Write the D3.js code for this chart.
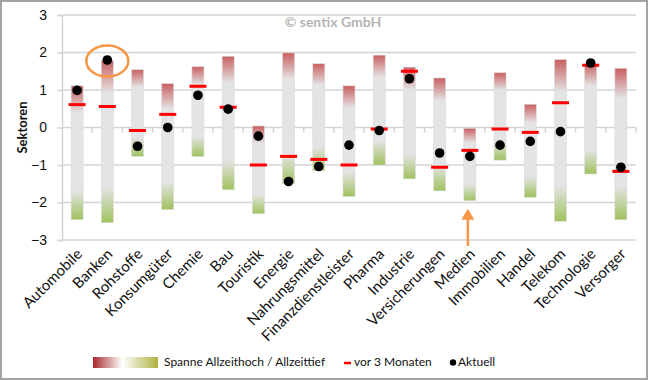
<!DOCTYPE html>
<html>
<head>
<meta charset="utf-8">
<script src="https://cdn.jsdelivr.net/npm/d3@7.9.0/dist/d3.min.js"></script>
<style>
  body { margin: 0; background: #fff; }
  svg { display: block; font-family: Lato, 'Open Sans', sans-serif; }
</style>
</head>
<body>
<svg id="chart" width="648" height="380"></svg>
<script>
// Sektoren-Sentiment (sentix), values
const categories = ['Automobile', 'Banken', 'Rohstoffe', 'Konsumgüter', 'Chemie', 'Bau', 'Touristik',
  'Energie', 'Nahrungsmittel', 'Finanzdienstleister', 'Pharma', 'Industrie', 'Versicherungen',
  'Medien', 'Immobilien', 'Handel', 'Telekom', 'Technologie', 'Versorger'];
const allTimeHigh = [1.11, 1.79, 1.54, 1.17, 1.62, 1.90, 0.04, 1.99, 1.70, 1.11, 1.93, 1.61, 1.32,
  -0.02, 1.46, 0.62, 1.81, 1.70, 1.58];
const allTimeLow = [-2.46, -2.54, -0.77, -2.19, -0.77, -1.66, -2.30, -1.50, -1.15, -1.84, -1.00, -1.37,
  -1.69, -1.95, -0.87, -1.86, -2.50, -1.24, -2.46];
const threeMonthsAgo = [0.61, 0.56, -0.08, 0.35, 1.10, 0.54, -1.00, -0.77, -0.85, -1.00, -0.04, 1.50,
  -1.06, -0.61, -0.04, -0.13, 0.66, 1.66, -1.17];
const current = [0.99, 1.80, -0.50, 0.00, 0.86, 0.49, -0.23, -1.44, -1.04, -0.47, -0.08, 1.30,
  -0.68, -0.77, -0.47, -0.37, -0.11, 1.72, -1.06];
const yTicks = [-3, -2, -1, 0, 1, 2, 3];

const rows = categories.map((c, i) => ({
  name: c, hi: allTimeHigh[i], lo: allTimeLow[i], prev: threeMonthsAgo[i], now: current[i]
}));

const svg = d3.select('#chart');

// frame
svg.append('rect')
  .attr('x', 1).attr('y', 1).attr('width', 646).attr('height', 378)
  .attr('fill', '#fff').attr('stroke', '#a3a3a3').attr('stroke-width', 2);

const x = d3.scaleBand().domain(categories).range([62, 636]);
const y = d3.scaleLinear().domain([-3, 3]).range([240, 15]);

const defs = svg.append('defs');
const barGrad = defs.append('linearGradient').attr('id', 'barGrad')
  .attr('x1', 0).attr('y1', 0).attr('x2', 0).attr('y2', 1);
barGrad.append('stop').attr('offset', '0%').attr('stop-color', '#c95f61');
barGrad.append('stop').attr('offset', '20%').attr('stop-color', '#e4e4e4');
barGrad.append('stop').attr('offset', '78%').attr('stop-color', '#e4e4e4');
barGrad.append('stop').attr('offset', '100%').attr('stop-color', '#9fc25e');

const legGrad = defs.append('linearGradient').attr('id', 'legGrad');
legGrad.append('stop').attr('offset', '0%').attr('stop-color', '#a8282c');
legGrad.append('stop').attr('offset', '45%').attr('stop-color', '#ffffff');
legGrad.append('stop').attr('offset', '100%').attr('stop-color', '#aeb23e');

// gridlines
svg.append('g')
  .selectAll('line')
  .data(yTicks.filter(t => t !== 0))
  .join('line')
  .attr('x1', 62).attr('x2', 636)
  .attr('y1', d => y(d)).attr('y2', d => y(d))
  .attr('stroke', '#d4d4d4').attr('stroke-width', 1.5);

// y axis
const yAxis = svg.append('g')
  .attr('transform', 'translate(62,0)')
  .call(d3.axisLeft(y).tickValues(yTicks).tickSize(5).tickPadding(10).tickFormat(d3.format('d')));
yAxis.select('.domain').attr('stroke', '#d4d4d4').attr('stroke-width', 1.5);
yAxis.selectAll('.tick line').attr('stroke', '#d4d4d4').attr('stroke-width', 1.5);
yAxis.selectAll('text').attr('font-size', 14).attr('fill', '#111');

// x axis at zero with ticks between categories
svg.append('line')
  .attr('x1', 62).attr('x2', 636).attr('y1', y(0)).attr('y2', y(0))
  .attr('stroke', '#d4d4d4').attr('stroke-width', 1.5);
svg.append('g')
  .selectAll('line')
  .data(categories.slice(1).concat(['__end']))
  .join('line')
  .attr('x1', d => d === '__end' ? 636 : x(d))
  .attr('x2', d => d === '__end' ? 636 : x(d))
  .attr('y1', y(0)).attr('y2', y(0) + 5)
  .attr('stroke', '#d4d4d4').attr('stroke-width', 1.5);

// category labels
svg.append('g')
  .selectAll('text')
  .data(categories)
  .join('text')
  .attr('transform', d => `translate(${x(d) + x.bandwidth() / 2 + 6},${255}) rotate(-45)`)
  .attr('text-anchor', 'end')
  .attr('font-size', 15)
  .attr('fill', '#111')
  .text(d => d);

// y title
svg.append('text')
  .attr('transform', `translate(27,${y(0)}) rotate(-90)`)
  .attr('text-anchor', 'middle')
  .attr('font-size', 13).attr('font-weight', 'bold')
  .attr('fill', '#111')
  .text('Sektoren');

// watermark
svg.append('text')
  .attr('x', 333).attr('y', 27)
  .attr('text-anchor', 'middle')
  .attr('font-size', 14).attr('font-weight', 'bold')
  .attr('fill', '#b5b5b5')
  .text('© sentix GmbH');

const barW = 12;

// range bars
svg.append('g')
  .selectAll('rect')
  .data(rows)
  .join('rect')
  .attr('x', d => x(d.name) + x.bandwidth() / 2 - barW / 2)
  .attr('y', d => y(d.hi))
  .attr('width', barW)
  .attr('height', d => y(d.lo) - y(d.hi))
  .attr('fill', 'url(#barGrad)')
  .attr('stroke', '#dadada').attr('stroke-width', 0.6);

// 3 months ago markers
svg.append('g')
  .selectAll('line')
  .data(rows)
  .join('line')
  .attr('x1', d => x(d.name) + x.bandwidth() / 2 - 8.5)
  .attr('x2', d => x(d.name) + x.bandwidth() / 2 + 8.5)
  .attr('y1', d => y(d.prev)).attr('y2', d => y(d.prev))
  .attr('stroke', '#ff0000').attr('stroke-width', 3);

// current dots
svg.append('g')
  .selectAll('circle')
  .data(rows)
  .join('circle')
  .attr('cx', d => x(d.name) + x.bandwidth() / 2)
  .attr('cy', d => y(d.now))
  .attr('r', 4.8)
  .attr('fill', '#000');

// orange highlight around Banken
const banken = rows[1];
svg.append('ellipse')
  .attr('cx', x(banken.name) + x.bandwidth() / 2)
  .attr('cy', y(banken.now) + 1)
  .attr('rx', 21).attr('ry', 15.5)
  .attr('fill', 'none').attr('stroke', '#f79646').attr('stroke-width', 2.5);

// orange arrow below Medien
const medien = rows[13];
const ax = x(medien.name) + x.bandwidth() / 2 - 2;
const tip = y(medien.lo) + 8;
svg.append('line')
  .attr('x1', ax).attr('x2', ax).attr('y1', tip + 8).attr('y2', 246)
  .attr('stroke', '#f79646').attr('stroke-width', 2.5);
svg.append('path')
  .attr('d', `M${ax},${tip} L${ax - 6.5},${tip + 11} L${ax + 6.5},${tip + 11} Z`)
  .attr('fill', '#f79646');

// legend
const leg = svg.append('g').attr('font-size', 12).attr('fill', '#111');
leg.append('rect')
  .attr('x', 93).attr('y', 357).attr('width', 65).attr('height', 11)
  .attr('fill', 'url(#legGrad)');
leg.append('text').attr('x', 164).attr('y', 366).text('Spanne Allzeithoch / Allzeittief');
leg.append('line')
  .attr('x1', 344).attr('x2', 351).attr('y1', 363).attr('y2', 363)
  .attr('stroke', '#ff0000').attr('stroke-width', 2.5);
leg.append('text').attr('x', 354).attr('y', 366).text('vor 3 Monaten');
leg.append('circle').attr('cx', 453).attr('cy', 362.5).attr('r', 3.2).attr('fill', '#000');
leg.append('text').attr('x', 458).attr('y', 366).text('Aktuell');
</script>
</body>
</html>
